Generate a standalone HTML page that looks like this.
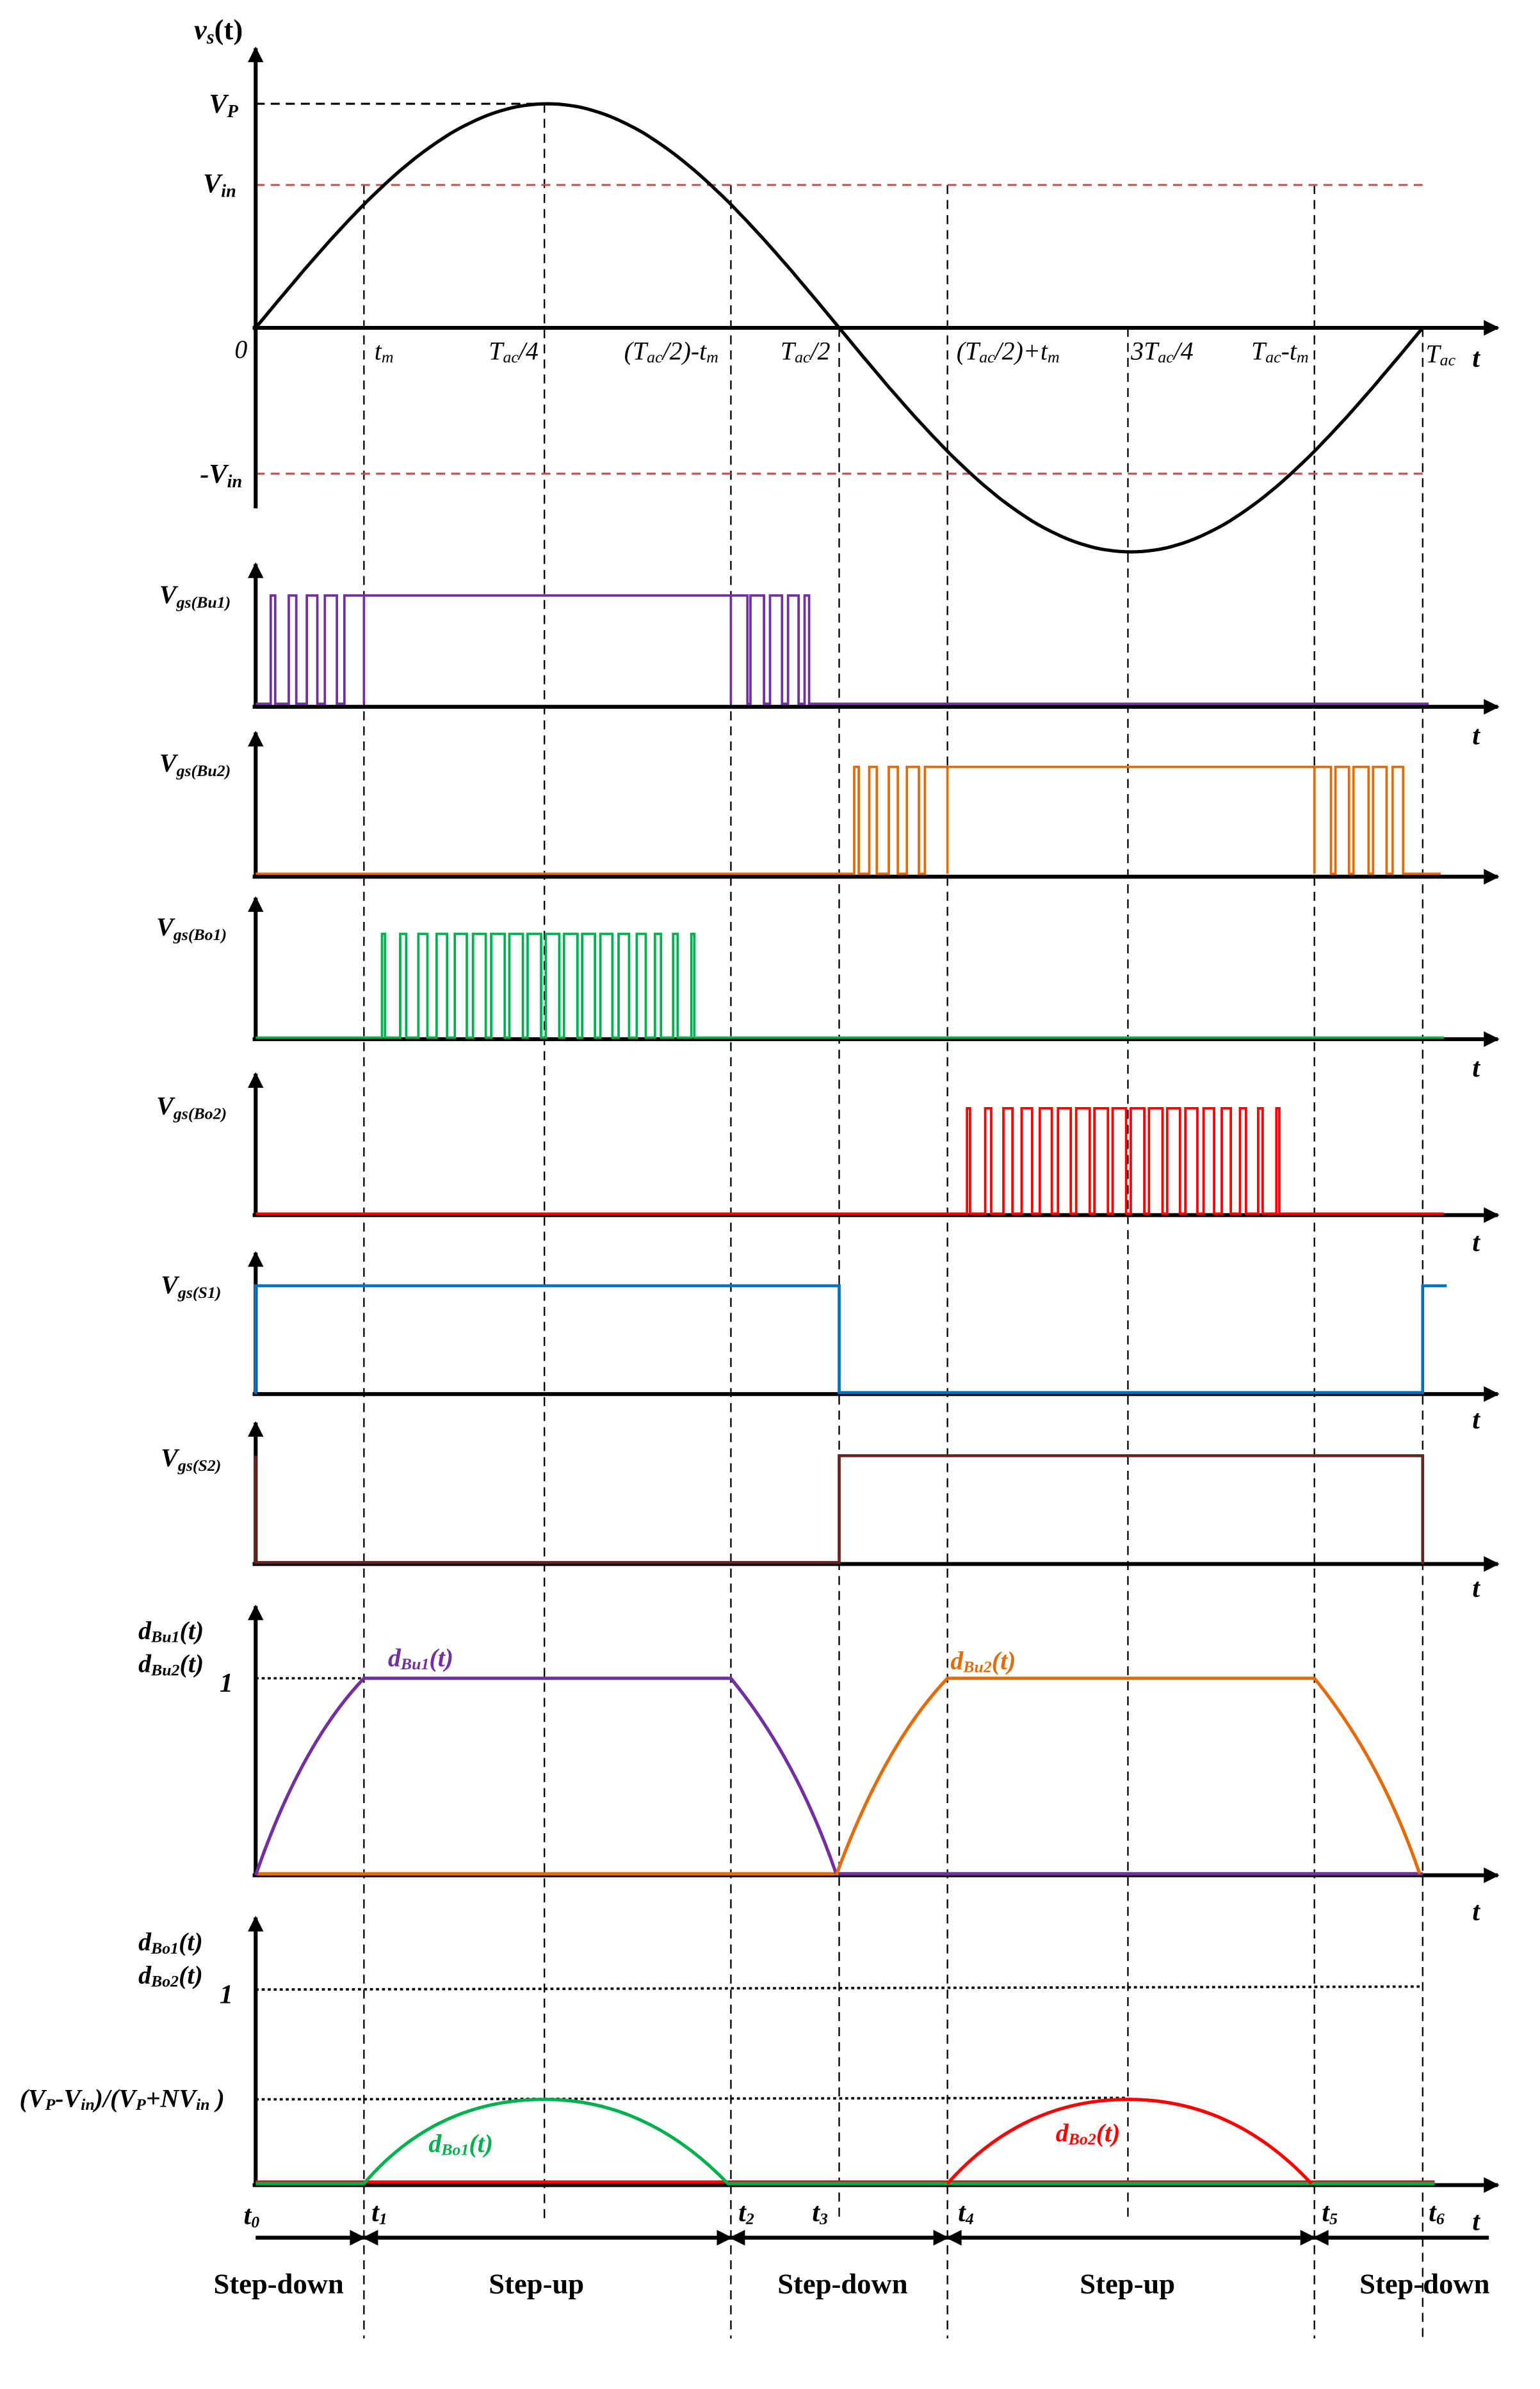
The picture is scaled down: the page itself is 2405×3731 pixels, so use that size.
<!DOCTYPE html>
<html><head><meta charset="utf-8"><style>
html,body{margin:0;padding:0;background:#fff}
svg{display:block}
text{font-family:"Liberation Serif",serif;font-style:italic;fill:#000}
.b{font-weight:bold}
.n{font-style:normal;font-weight:bold}
</style></head><body>
<svg id="s" width="2405" height="3731" viewBox="0 0 1024 1588.6" xmlns="http://www.w3.org/2000/svg">
<defs>
<marker id="ar" viewBox="0 0 10 10" refX="9" refY="5" markerWidth="5" markerHeight="4" orient="auto-start-reverse" markerUnits="strokeWidth"><path d="M0,0L10,5L0,10z" fill="#000"/></marker>
</defs>
<g id="g"></g>
<text x="129" y="26" font-size="19" class="b">v<tspan font-size="13" dy="3">s</tspan><tspan dy="-3" class="n">(t)</tspan></text>
<text x="139" y="75" font-size="18" class="b">V<tspan font-size="12" dy="3">P</tspan></text>
<text x="135" y="128" font-size="18" class="b">V<tspan font-size="12" dy="3">in</tspan></text>
<text x="133" y="321" font-size="18" class="b">-V<tspan font-size="12" dy="3">in</tspan></text>
<text x="156" y="238" font-size="17">0</text>
<text x="249" y="239" font-size="17">t<tspan font-size="11" dy="2">m</tspan></text>
<text x="325" y="239" font-size="17">T<tspan font-size="11" dy="2">ac</tspan><tspan dy="-2">/4</tspan></text>
<text x="415" y="239" font-size="17">(T<tspan font-size="11" dy="2">ac</tspan><tspan dy="-2">/2)-t</tspan><tspan font-size="11" dy="2">m</tspan></text>
<text x="519" y="239" font-size="17">T<tspan font-size="11" dy="2">ac</tspan><tspan dy="-2">/2</tspan></text>
<text x="636" y="239" font-size="17">(T<tspan font-size="11" dy="2">ac</tspan><tspan dy="-2">/2)+t</tspan><tspan font-size="11" dy="2">m</tspan></text>
<text x="752" y="239" font-size="17">3T<tspan font-size="11" dy="2">ac</tspan><tspan dy="-2">/4</tspan></text>
<text x="832" y="239" font-size="17">T<tspan font-size="11" dy="2">ac</tspan><tspan dy="-2">-t</tspan><tspan font-size="11" dy="2">m</tspan></text>
<text x="948" y="241" font-size="17">T<tspan font-size="11" dy="2">ac</tspan></text>
<text x="979" y="244" font-size="18" class="b">t</text>
<text x="106" y="401" font-size="17" class="b">V<tspan font-size="11" dy="3">gs(Bu1)</tspan></text>
<text x="106" y="513" font-size="17" class="b">V<tspan font-size="11" dy="3">gs(Bu2)</tspan></text>
<text x="104" y="622" font-size="17" class="b">V<tspan font-size="11" dy="3">gs(Bo1)</tspan></text>
<text x="104" y="741" font-size="17" class="b">V<tspan font-size="11" dy="3">gs(Bo2)</tspan></text>
<text x="107" y="860" font-size="17" class="b">V<tspan font-size="11" dy="3">gs(S1)</tspan></text>
<text x="107" y="975" font-size="17" class="b">V<tspan font-size="11" dy="3">gs(S2)</tspan></text>
<text x="979" y="495" font-size="18" class="b">t</text>
<text x="979" y="716" font-size="18" class="b">t</text>
<text x="979" y="832" font-size="18" class="b">t</text>
<text x="979" y="950" font-size="18" class="b">t</text>
<text x="979" y="1062" font-size="18" class="b">t</text>
<text x="979" y="1277" font-size="18" class="b">t</text>
<text x="979" y="1483" font-size="18" class="b">t</text>
<text x="92" y="1090" font-size="17" class="b">d<tspan font-size="11" dy="2">Bu1</tspan><tspan dy="-2">(t)</tspan></text>
<text x="92" y="1112" font-size="17" class="b">d<tspan font-size="11" dy="2">Bu2</tspan><tspan dy="-2">(t)</tspan></text>
<text x="146" y="1125" font-size="18" class="b">1</text>
<text x="258" y="1108" font-size="17" class="b" style="fill:#7030a0">d<tspan font-size="11" dy="2" style="fill:#7030a0">Bu1</tspan><tspan dy="-2" style="fill:#7030a0">(t)</tspan></text>
<text x="632" y="1110" font-size="17" class="b" style="fill:#e36c0a">d<tspan font-size="11" dy="2" style="fill:#e36c0a">Bu2</tspan><tspan dy="-2" style="fill:#e36c0a">(t)</tspan></text>
<text x="92" y="1297" font-size="17" class="b">d<tspan font-size="11" dy="2">Bo1</tspan><tspan dy="-2">(t)</tspan></text>
<text x="92" y="1319" font-size="17" class="b">d<tspan font-size="11" dy="2">Bo2</tspan><tspan dy="-2">(t)</tspan></text>
<text x="146" y="1332" font-size="18" class="b">1</text>
<text x="13" y="1401" font-size="17" class="b">(V<tspan font-size="11" dy="2">P</tspan><tspan dy="-2">-V</tspan><tspan font-size="11" dy="2">in</tspan><tspan dy="-2">)/(V</tspan><tspan font-size="11" dy="2">P</tspan><tspan dy="-2">+NV</tspan><tspan font-size="11" dy="2">in</tspan><tspan dy="-2"> )</tspan></text>
<text x="285" y="1431" font-size="17" class="b" style="fill:#00b050">d<tspan font-size="11" dy="2" style="fill:#00b050">Bo1</tspan><tspan dy="-2" style="fill:#00b050">(t)</tspan></text>
<text x="702" y="1424" font-size="17" class="b" style="fill:#ff0000">d<tspan font-size="11" dy="2" style="fill:#ff0000">Bo2</tspan><tspan dy="-2" style="fill:#ff0000">(t)</tspan></text>
<text x="162" y="1479" font-size="18" class="b">t<tspan font-size="11" dy="2">0</tspan></text>
<text x="247" y="1477" font-size="18" class="b">t<tspan font-size="11" dy="2">1</tspan></text>
<text x="491" y="1477" font-size="18" class="b">t<tspan font-size="11" dy="2">2</tspan></text>
<text x="540" y="1477" font-size="18" class="b">t<tspan font-size="11" dy="2">3</tspan></text>
<text x="637" y="1477" font-size="18" class="b">t<tspan font-size="11" dy="2">4</tspan></text>
<text x="879" y="1477" font-size="18" class="b">t<tspan font-size="11" dy="2">5</tspan></text>
<text x="950" y="1477" font-size="18" class="b">t<tspan font-size="11" dy="2">6</tspan></text>
<text x="142" y="1525" font-size="19" class="n">Step-down</text>
<text x="325" y="1525" font-size="19" class="n">Step-up</text>
<text x="517" y="1525" font-size="19" class="n">Step-down</text>
<text x="718" y="1525" font-size="19" class="n">Step-up</text>
<text x="904" y="1525" font-size="19" class="n">Step-down</text>
</svg>
<script>
var g=document.getElementById('g'),o='';
function L(x1,y1,x2,y2,c,w,extra){o+='<line x1="'+x1+'" y1="'+y1+'" x2="'+x2+'" y2="'+y2+'" stroke="'+c+'" stroke-width="'+w+'" '+(extra||'')+'/>';}
function P(d,c,w,extra){o+='<path d="'+d+'" fill="none" stroke="'+c+'" stroke-width="'+w+'" '+(extra||'')+'/>';}
var D='stroke-dasharray="6,4"';
[[242,123,1555],[486,123,1555],[630,123,1555],[874,123,1555],[362,69,1475],[750,218,1475],[558,218,1475],[946,218,1555]].forEach(function(a){L(a[0],a[1],a[0],a[2],'#000',1,D);});
L(170,69,362,69,'#000',1.3,D);
L(170,123,946,123,'#c0504d',1.3,D);L(170,315,946,315,'#c0504d',1.3,D);
var d='';for(var i=0;i<=200;i++){var x=170+776*i/200,y=218-149*Math.sin(2*Math.PI*i/200);d+=(i?'L':'M')+x.toFixed(1)+','+y.toFixed(1);}
P(d,'#000',2.2);
L(170,338,170,32,'#000',2.6,'marker-end="url(#ar)"');
L(168,218,996,218,'#000',2.6,'marker-end="url(#ar)"');
[[470,375],[583,487],[691,597],[808,714],[927,833],[1040,946],[1247,1068],[1453,1275]].forEach(function(a){L(170,a[0],170,a[1],'#000',2.6,'marker-end="url(#ar)"');L(168,a[0],996,a[0],'#000',2.6,'marker-end="url(#ar)"');});
var p='M170,468L180,468L180,396L183,396L183,468L192,468L192,396L197,396L197,468L204,468L204,396L211,396L211,468L216,468L216,396L224,396L224,468L229,468L229,396L242,396L242,468L242,396L486,396L486,468L486,396L497,396L497,468L499,468L499,396L508,396L508,468L512,468L512,396L520,396L520,468L524,468L524,396L531,396L531,468L535,468L535,396L538,396L538,468L546,468L950,468';
P(p,'#7030a0',1.6);
var q='M170,581L568,581L568,510L571,510L571,581L578,581L578,510L583,510L583,581L591,581L591,510L597,510L597,581L603,581L603,510L611,510L611,581L615,581L615,510L630,510L630,581L630,510L874,510L874,581L874,510L885,510L885,581L888,581L888,510L897,510L897,581L900,581L900,510L910,510L910,581L913,581L913,510L922,510L922,581L926,581L926,510L933,510L933,581L958,581';
P(q,'#e36c0a',1.6);
var W=[2,4,6,7,8,8.5,9,9,9,9,9,8.5,8,7,6,4,3,2];
var s='M170,690L254,690';for(var i=0;i<18;i++){var a=254+i*12.1;var w=W[i];s+='L'+a.toFixed(1)+',690L'+a.toFixed(1)+',621L'+(a+w).toFixed(1)+',621L'+(a+w).toFixed(1)+',690';}s+='L960,690';
P(s,'#00b050',1.6);
var r='M170,807L643,807';for(var i=0;i<18;i++){var a=643+i*12.1;var w=W[i];r+='L'+a.toFixed(1)+',807L'+a.toFixed(1)+',737L'+(a+w).toFixed(1)+',737L'+(a+w).toFixed(1)+',807';}r+='L960,807';
P(r,'#ff0000',1.6);
P('M170,927L170,855L558,855L558,926L946,926L946,855L962,855','#0070c0',2);
P('M170,968L170,1039L558,1039L558,968L946,968L946,1040','#632523',2);
L(170,1116,242,1116,'#000',1.5,'stroke-dasharray="2,2"');
P('M170,1246L946,1246','#e36c0a',2.2);
P('M170,1247Q200,1160 242,1116L486,1116Q530,1170 556,1246L946,1246','#7030a0',2.2);
P('M556,1247Q588,1160 630,1116L874,1116Q918,1170 944,1246','#e36c0a',2.2);
L(170,1323,946,1321,'#000',1.6,'stroke-dasharray="2,2"');
L(170,1396,750,1395,'#000',1.6,'stroke-dasharray="2,2"');
L(170,1451,954,1451,'#ff0000',2.2);
P('M170,1452L242,1452Q290,1396 362,1396Q430,1396 484,1452L954,1452','#00b050',2.2);
P('M630,1452Q680,1396 750,1396Q820,1396 872,1452','#ff0000',2.2);
var Y=1488;
[[170,242],[242,486],[486,630],[630,874],[874,990]].forEach(function(a,i){L(a[0],Y,a[1],Y,'#000',2.6,(i==0?'':'marker-start="url(#ar)" ')+(i==4?'':'marker-end="url(#ar)"'));});
g.innerHTML=o;
</script>
</body></html>
